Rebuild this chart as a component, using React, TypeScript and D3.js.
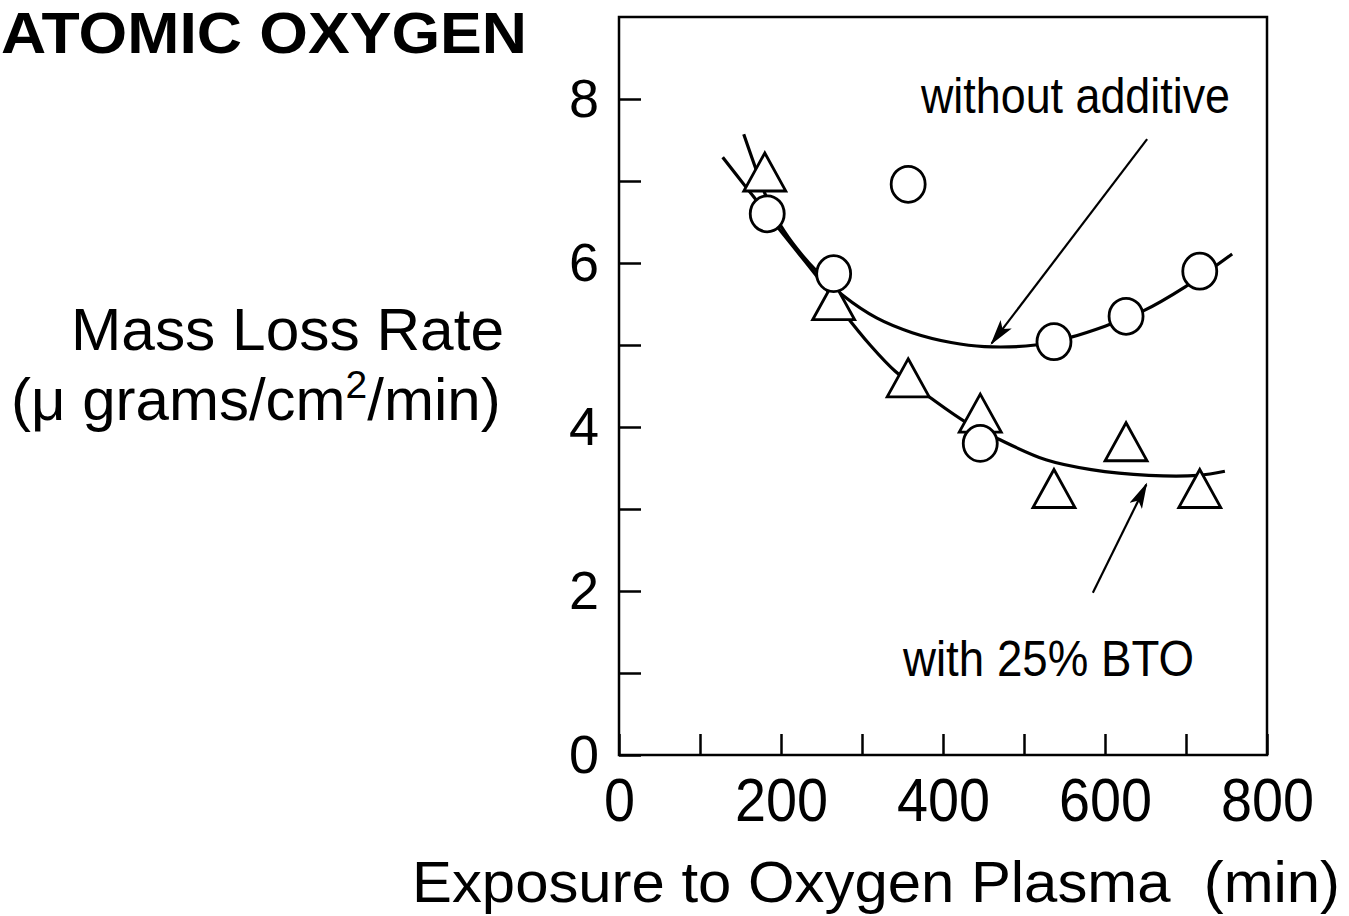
import React, { useEffect, useRef } from 'react'
import * as d3 from 'd3'

const width = 1349
const height = 916
const margin = { top: 17, right: 82, bottom: 161, left: 619 }
const font = '"Liberation Sans", Arial, Helvetica, sans-serif'

// measured points (min, µg/cm²/min)
const circleX = [183, 265, 357, 446, 537, 626, 717]
const circleY = [6.6, 5.87, 6.96, 3.8, 5.04, 5.35, 5.9]
const triangleX = [180, 265, 357, 446, 537, 626, 717]
const triangleY = [7.11, 5.54, 4.6, 4.17, 3.25, 3.82, 3.25]

// hand-drawn fit curves
const withoutFitX = [154, 170, 183, 200, 220, 244, 277, 318, 362, 410, 451, 514, 556, 600, 646, 699, 757]
const withoutFitY = [7.57, 7.12, 6.78, 6.45, 6.17, 5.9, 5.6, 5.33, 5.15, 5.03, 4.98, 5.0, 5.09, 5.23, 5.41, 5.71, 6.11]
const btoFitX = [128, 158, 183, 215, 244, 277, 310, 341, 384, 428, 467, 527, 583, 654, 715, 748]
const btoFitY = [7.29, 6.91, 6.6, 6.2, 5.84, 5.4, 5.0, 4.68, 4.36, 4.06, 3.86, 3.6, 3.48, 3.41, 3.41, 3.46]

// annotation arrows [x1, y1, x2, y2] in data units
const arrowWithout = [652, 7.51, 460, 5.02]
const arrowBto = [585, 1.98, 651, 3.3]

const xTicks = [0, 100, 200, 300, 400, 500, 600, 700, 800]
const yTicks = [0, 1, 2, 3, 4, 5, 6, 7, 8]

const App = () => {
  const ref = useRef<SVGSVGElement>(null)

  useEffect(() => {
    const x = d3.scaleLinear().domain([0, 800]).range([margin.left, width - margin.right])
    const y = d3.scaleLinear().domain([0, 9]).range([height - margin.bottom, margin.top])

    const svg = d3.select(ref.current)
    svg.selectAll('*').remove()

    svg.append('defs').append('marker')
      .attr('id', 'head')
      .attr('markerUnits', 'userSpaceOnUse')
      .attr('markerWidth', 26)
      .attr('markerHeight', 14)
      .attr('refX', 24)
      .attr('refY', 7)
      .attr('orient', 'auto')
      .append('path')
      .attr('d', 'M0,0 L26,7 L0,14 L6,7 Z')
      .attr('fill', '#000')

    // axes
    const xAxis = svg.append('g')
      .attr('transform', `translate(0,${height - margin.bottom})`)
      .call(d3.axisBottom(x).tickValues(xTicks).tickSize(-21).tickPadding(22)
        .tickFormat(d => (+d % 200 === 0 ? String(d) : '')))
    xAxis.select('.domain').remove()
    xAxis.selectAll('line').attr('stroke-width', 2.5)
    xAxis.selectAll('text')
      .attr('font-family', font)
      .attr('font-size', 62)
      .attr('fill', '#000')
      .attr('textLength', function () { return (d3.select(this).text().length) * 31 })
      .attr('lengthAdjust', 'spacingAndGlyphs')

    const yAxis = svg.append('g')
      .attr('transform', `translate(${margin.left},0)`)
      .call(d3.axisLeft(y).tickValues(yTicks).tickSize(-22).tickPadding(20)
        .tickFormat(d => (+d % 2 === 0 ? String(d) : '')))
    yAxis.select('.domain').remove()
    yAxis.selectAll('line').attr('stroke-width', 2.5)
    yAxis.selectAll('text')
      .attr('font-family', font)
      .attr('font-size', 54)
      .attr('fill', '#000')

    svg.append('rect')
      .attr('x', x(0))
      .attr('y', y(9))
      .attr('width', x(800) - x(0))
      .attr('height', y(0) - y(9))
      .attr('fill', 'none')
      .attr('stroke', '#000')
      .attr('stroke-width', 2.5)

    // fit curves
    const fits = [
      withoutFitX.map((v, i) => [x(v), y(withoutFitY[i])] as [number, number]),
      btoFitX.map((v, i) => [x(v), y(btoFitY[i])] as [number, number]),
    ]
    const curve = d3.line<[number, number]>().curve(d3.curveCatmullRom.alpha(0.5))
    svg.append('g')
      .selectAll('path')
      .data(fits)
      .join('path')
      .attr('d', d => curve(d))
      .attr('fill', 'none')
      .attr('stroke', '#000')
      .attr('stroke-width', 3.2)

    // arrows
    svg.append('g')
      .selectAll('line')
      .data([arrowWithout, arrowBto])
      .join('line')
      .attr('x1', d => x(d[0]))
      .attr('y1', d => y(d[1]))
      .attr('x2', d => x(d[2]))
      .attr('y2', d => y(d[3]))
      .attr('stroke', '#000')
      .attr('stroke-width', 2.2)
      .attr('marker-end', 'url(#head)')

    // triangles
    svg.append('g')
      .selectAll('path')
      .data(triangleX.map((v, i) => [v, triangleY[i]]))
      .join('path')
      .attr('d', d => {
        const cx = x(d[0])
        const cy = y(d[1])
        return `M${cx},${cy - 19} L${cx + 21},${cy + 19} L${cx - 21},${cy + 19} Z`
      })
      .attr('fill', '#fff')
      .attr('stroke', '#000')
      .attr('stroke-width', 2.8)

    // circles
    svg.append('g')
      .selectAll('ellipse')
      .data(circleX.map((v, i) => [v, circleY[i]]))
      .join('ellipse')
      .attr('cx', d => x(d[0]))
      .attr('cy', d => y(d[1]))
      .attr('rx', 17)
      .attr('ry', 18)
      .attr('fill', '#fff')
      .attr('stroke', '#000')
      .attr('stroke-width', 2.8)

    // texts
    const txt = (s: string, tx: number, ty: number, size: number, len?: number, weight = 'normal') => {
      const t = svg.append('text')
        .attr('x', tx)
        .attr('y', ty)
        .attr('font-family', font)
        .attr('font-size', size)
        .attr('font-weight', weight)
        .attr('fill', '#000')
        .style('white-space', 'pre')
        .text(s)
      if (len) t.attr('textLength', len).attr('lengthAdjust', 'spacingAndGlyphs')
      return t
    }
    txt('ATOMIC OXYGEN', 1, 53, 57, 526, 'bold')
    txt('without additive', 921, 113, 50, 309)
    txt('with 25% BTO', 903, 676, 50, 291)
    txt('Mass Loss Rate', 71, 350, 60, 433)
    txt('Exposure to Oxygen Plasma  (min)', 412, 902, 57, 928)

    const unit = svg.append('text')
      .attr('x', 11)
      .attr('y', 420)
      .attr('font-family', font)
      .attr('font-size', 60)
      .attr('fill', '#000')
    unit.append('tspan').text('(μ grams/cm')
    unit.append('tspan').attr('font-size', 39).attr('dy', -22).text('2')
    unit.append('tspan').attr('dy', 22).text('/min)')
  }, [])

  return (
    <svg ref={ref} width={width} height={height}
      style={{ position: 'absolute', left: 0, top: 0, background: '#fff' }} />
  )
}

export default App
